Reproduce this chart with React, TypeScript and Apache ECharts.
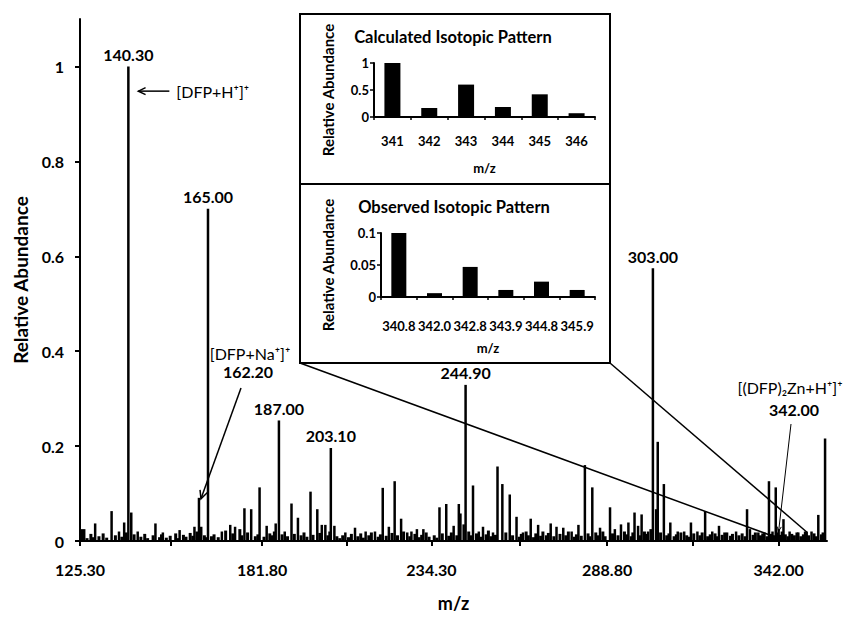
import React, { useEffect, useRef } from 'react';
import * as echarts from 'echarts';

// ---- main spectrum data (m/z, relative abundance) ----
const labeledPeaks: [number, number][] = [
  [140.3, 1.0], [165.0, 0.70], [187.0, 0.254], [203.1, 0.196], [244.9, 0.329], [303.0, 0.575],
];
const annotatedPeaks: [number, number][] = [[162.2, 0.091], [342.0, 0.025]];
const minorPeaks: [number, number][] = [
  [125.9, 0.025], [126.6, 0.025], [130.0, 0.037], [135.1, 0.063], [137.4, 0.02], [139.0, 0.039],
  [141.2, 0.06], [143.2, 0.02], [148.7, 0.037], [151.0, 0.018], [156.2, 0.023], [160.8, 0.03],
  [162.9, 0.03], [169.3, 0.02], [171.9, 0.034], [173.4, 0.03], [176.3, 0.069], [178.4, 0.067],
  [181.0, 0.113], [183.2, 0.032], [186.0, 0.037], [188.8, 0.02], [190.9, 0.079], [192.9, 0.049],
  [196.8, 0.104], [198.9, 0.067], [200.3, 0.034], [201.4, 0.034], [204.2, 0.032], [207.6, 0.018],
  [210.6, 0.028], [213.9, 0.02], [216.8, 0.02], [219.2, 0.112], [221.1, 0.03], [222.9, 0.126],
  [224.9, 0.047], [226.8, 0.018], [228.1, 0.02], [229.8, 0.025], [231.8, 0.025], [236.8, 0.071],
  [238.9, 0.078], [241.2, 0.032], [242.8, 0.078], [243.3, 0.058], [244.3, 0.035], [247.2, 0.117],
  [249.0, 0.02], [250.3, 0.03], [253.4, 0.018], [254.8, 0.157], [256.3, 0.12], [258.6, 0.098],
  [260.7, 0.051], [262.7, 0.018], [265.1, 0.047], [267.4, 0.034], [271.3, 0.037], [273.1, 0.03],
  [275.2, 0.028], [277.8, 0.02], [279.9, 0.034], [281.9, 0.16], [284.2, 0.113], [286.6, 0.028],
  [289.7, 0.071], [291.2, 0.025], [293.1, 0.035], [295.4, 0.039], [297.3, 0.06], [298.4, 0.032],
  [299.5, 0.056], [301.5, 0.02], [304.0, 0.067], [304.5, 0.209], [306.4, 0.12], [308.4, 0.039],
  [310.7, 0.02], [312.7, 0.02], [314.8, 0.039], [316.8, 0.02], [319.2, 0.063], [321.4, 0.02],
  [323.5, 0.032], [326.0, 0.018], [328.8, 0.02], [332.2, 0.067], [333.1, 0.025], [335.7, 0.018],
  [337.6, 0.018], [339.0, 0.126], [340.1, 0.02], [341.1, 0.113], [343.5, 0.046], [345.4, 0.02],
  [348.1, 0.018], [350.7, 0.02], [352.2, 0.02], [354.3, 0.055], [356.4, 0.216],
];
const baselineNoise: [number, number][] = [
  [126.2, 0.012], [127.4, 0.006], [128.6, 0.015], [129.3, 0.008], [131.1, 0.01], [132.4, 0.016],
  [133.5, 0.007], [136.2, 0.012], [138.2, 0.009], [139.6, 0.018], [142.0, 0.014], [144.1, 0.009],
  [145.3, 0.015], [146.2, 0.006], [147.9, 0.012], [149.9, 0.008], [150.5, 0.014], [152.0, 0.007],
  [153.2, 0.011], [154.9, 0.016], [155.6, 0.006], [157.3, 0.013], [158.1, 0.009], [159.4, 0.017],
  [160.2, 0.011], [161.5, 0.02], [163.8, 0.012], [164.3, 0.008], [166.0, 0.01], [166.8, 0.014],
  [168.1, 0.008], [170.4, 0.022], [172.6, 0.016], [174.8, 0.025], [175.4, 0.012], [177.2, 0.018],
  [179.6, 0.01], [180.4, 0.014], [182.3, 0.009], [184.1, 0.016], [184.9, 0.012], [185.5, 0.02],
  [187.9, 0.014], [189.6, 0.01], [191.7, 0.015], [193.8, 0.012], [194.7, 0.018], [195.6, 0.009],
  [197.5, 0.013], [199.6, 0.017], [202.1, 0.012], [202.7, 0.02], [204.9, 0.01], [205.8, 0.006],
  [206.7, 0.012], [208.5, 0.008], [209.4, 0.015], [211.4, 0.01], [212.3, 0.016], [213.1, 0.007],
  [214.8, 0.012], [215.6, 0.018], [217.7, 0.009], [218.4, 0.014], [220.2, 0.011], [222.0, 0.017],
  [223.7, 0.012], [225.6, 0.02], [227.5, 0.01], [229.1, 0.015], [230.4, 0.008], [231.2, 0.013],
  [232.6, 0.018], [233.5, 0.009], [235.1, 0.012], [235.9, 0.007], [237.6, 0.016], [239.6, 0.011],
  [240.4, 0.018], [242.1, 0.012], [245.8, 0.02], [246.4, 0.012], [248.2, 0.016], [249.6, 0.009],
  [251.2, 0.014], [251.9, 0.022], [252.7, 0.01], [254.1, 0.013], [257.3, 0.018], [259.4, 0.012],
  [261.5, 0.009], [262.1, 0.015], [263.6, 0.02], [264.3, 0.012], [265.9, 0.008], [266.6, 0.016],
  [268.1, 0.011], [268.8, 0.02], [269.9, 0.012], [270.5, 0.017], [272.2, 0.01], [274.1, 0.015],
  [275.9, 0.012], [276.7, 0.02], [278.6, 0.009], [279.2, 0.014], [280.7, 0.011], [282.8, 0.016],
  [283.3, 0.01], [285.2, 0.018], [285.9, 0.012], [287.4, 0.02], [288.1, 0.01], [290.4, 0.016],
  [292.1, 0.012], [294.1, 0.02], [294.8, 0.014], [296.2, 0.01], [296.7, 0.018], [298.9, 0.012],
  [300.3, 0.02], [301.0, 0.015], [302.3, 0.025], [305.3, 0.018], [307.2, 0.012], [307.9, 0.016],
  [309.5, 0.01], [310.2, 0.014], [311.6, 0.018], [313.4, 0.012], [314.2, 0.009], [315.6, 0.016],
  [317.5, 0.012], [318.2, 0.018], [319.9, 0.01], [320.7, 0.014], [322.2, 0.016], [322.9, 0.01],
  [324.4, 0.013], [325.2, 0.018], [327.0, 0.011], [327.6, 0.015], [329.6, 0.012], [330.6, 0.016],
  [331.5, 0.01], [334.0, 0.013], [334.7, 0.018], [336.3, 0.012], [337.0, 0.016], [338.3, 0.01],
  [339.6, 0.015], [340.6, 0.012], [341.6, 0.018], [342.5, 0.013], [343.0, 0.02], [344.0, 0.014],
  [344.8, 0.01], [346.0, 0.015], [346.8, 0.012], [347.6, 0.018], [348.8, 0.01], [349.6, 0.014],
  [350.2, 0.02], [351.2, 0.012], [352.9, 0.016], [353.6, 0.01], [355.2, 0.014], [355.7, 0.018],
];
const xTickLabels = [125.3, 181.8, 234.3, 288.8, 342.0];
const xMinorTicks = [125.3, 153.55, 181.8, 208.05, 234.3, 261.55, 288.8, 315.4, 342.0];
const yTickLabels = [0, 0.2, 0.4, 0.6, 0.8, 1];

// ---- inset data ----
const calcMz = ['341', '342', '343', '344', '345', '346'];
const calcAbund = [1.0, 0.167, 0.6, 0.185, 0.42, 0.07];
const obsMz = ['340.8', '342.0', '342.8', '343.9', '344.8', '345.9'];
const obsAbund = [0.1, 0.006, 0.047, 0.011, 0.024, 0.011];

const FONT = 'Lato';

export default function App() {
  const ref = useRef<HTMLDivElement>(null);
  useEffect(() => {
    const chart = echarts.init(ref.current!, null, { renderer: 'svg' });
    const bold = (size: number) => ({ fontFamily: FONT, fontWeight: 'bold' as const, fontSize: size, color: '#000' });
    const axisLine = { show: true, lineStyle: { color: '#000', width: 2 } };

    const insetX = (gridIndex: number, data: string[], labelMargin: number) => ({
      type: 'category', gridIndex, data, name: 'm/z', nameLocation: 'middle', nameGap: 44,
      nameTextStyle: bold(13),
      axisLine, axisTick: { show: true, length: 3, lineStyle: { color: '#000', width: 1.5 } },
      axisLabel: { ...bold(13), margin: labelMargin, interval: 0, hideOverlap: false },
      splitLine: { show: false },
    });
    const insetY = (gridIndex: number, max: number, interval: number, nameGap: number) => ({
      type: 'value', gridIndex, min: 0, max, interval,
      name: 'Relative Abundance', nameLocation: 'middle', nameGap,
      nameTextStyle: bold(15),
      axisLine, axisTick: { show: true, length: 4, lineStyle: { color: '#000', width: 1.5 } },
      axisLabel: { ...bold(13), margin: 5 },
      splitLine: { show: false },
    });

    const barBase = {
      type: 'bar', xAxisIndex: 0, yAxisIndex: 0, barWidth: 2.5, barGap: '-100%',
      itemStyle: { color: '#000' }, silent: true,
    };

    const option: any = {
      animation: false,
      backgroundColor: '#fff',
      textStyle: { fontFamily: FONT, color: '#000' },
      grid: [
        { left: 80, right: 19, top: 19, bottom: 70 },
        { left: 374, top: 63, width: 221, height: 54 },
        { left: 381, top: 233, width: 214, height: 64 },
      ],
      xAxis: [
        {
          type: 'value', gridIndex: 0, min: 125.3, max: 357,
          name: 'm/z', nameLocation: 'middle', nameGap: 53, nameTextStyle: bold(18),
          axisLine,
          axisTick: { show: true, length: 5, customValues: xMinorTicks, lineStyle: { color: '#000', width: 2 } },
          axisLabel: { ...bold(16), margin: 20, customValues: xTickLabels, formatter: (v: number) => v.toFixed(2) },
          splitLine: { show: false },
        },
        insetX(1, calcMz, 17),
        insetX(2, obsMz, 22),
      ],
      yAxis: [
        {
          type: 'value', gridIndex: 0, min: 0, max: 1.1,
          name: 'Relative Abundance', nameLocation: 'middle', nameGap: 50, nameTextStyle: bold(19),
          axisLine,
          axisTick: { show: true, length: 5, customValues: yTickLabels, lineStyle: { color: '#000', width: 2 } },
          axisLabel: { ...bold(16), margin: 16, customValues: yTickLabels },
          splitLine: { show: false },
        },
        insetY(1, 1, 0.5, 39),
        insetY(2, 0.1, 0.05, 46),
      ],
      series: [
        { ...barBase, name: 'noise', data: baselineNoise, barWidth: 3 },
        { ...barBase, name: 'minor', data: minorPeaks },
        { ...barBase, name: 'annotated', data: annotatedPeaks },
        {
          ...barBase, name: 'labeled', data: labeledPeaks,
          label: {
            show: true, position: 'top', distance: 4, ...bold(16),
            formatter: (p: any) => p.value[0].toFixed(2),
          },
        },
        { type: 'bar', xAxisIndex: 1, yAxisIndex: 1, data: calcAbund, barWidth: 16, itemStyle: { color: '#000' } },
        { type: 'bar', xAxisIndex: 2, yAxisIndex: 2, data: obsAbund, barWidth: 15, itemStyle: { color: '#000' } },
      ],
    };
    chart.setOption(option);

    const P = (d: [number, number]) => chart.convertToPixel({ gridIndex: 0 }, d) as number[];
    const stroke = (w: number) => ({ stroke: '#000', lineWidth: w, fill: 'none' });
    const line = (a: number[], b: number[], w: number) => ({
      type: 'line', z: 100, shape: { x1: a[0], y1: a[1], x2: b[0], y2: b[1] }, style: stroke(w),
    });
    const head = (tip: number[], from: number[], len: number, w: number) => {
      const dx = from[0] - tip[0], dy = from[1] - tip[1];
      const l = Math.hypot(dx, dy); const ux = dx / l, uy = dy / l;
      const a = 0.45, c = Math.cos(a), s = Math.sin(a);
      const p1 = [tip[0] + len * (ux * c - uy * s), tip[1] + len * (ux * s + uy * c)];
      const p2 = [tip[0] + len * (ux * c + uy * s), tip[1] + len * (-ux * s + uy * c)];
      return { type: 'polyline', z: 100, shape: { points: [p1, tip, p2] }, style: stroke(w) };
    };
    const text = (t: string, x: number, y: number, size: number, weight: string, align = 'center') => ({
      type: 'text', z: 100, x, y,
      style: { text: t, fontFamily: FONT, fontSize: size, fontWeight: weight, fill: '#000', align, verticalAlign: 'middle' },
    });

    const pk140 = P([labeledPeaks[0][0], 0.948]);
    const tip1 = [pk140[0] + 10, pk140[1]];
    const tail1 = [pk140[0] + 41, pk140[1]];
    const pk162 = P(annotatedPeaks[0]);
    const tip2 = [pk162[0] + 2, pk162[1] + 1];
    const tail2 = [241, 388];
    const pk342 = P(annotatedPeaks[1]);
    const tip3 = [pk342[0], pk342[1] + 2];
    const tail3 = [791, 424];
    const zoomL = P([341.1, 0.008]);
    const zoomR = P([350.7, 0.019]);

    chart.setOption({
      graphic: [
        // inset box
        { type: 'rect', z: 100, shape: { x: 300, y: 14, width: 310, height: 349 }, style: stroke(2) },
        line([300, 184], [610, 184], 2),
        text('Calculated Isotopic Pattern', 453, 37, 16.5, 'bold'),
        text('Observed Isotopic Pattern', 454, 207, 16.5, 'bold'),
        // zoom lines
        line([300, 363], zoomL, 1.5),
        line([610, 363], zoomR, 1.5),
        // [DFP+H+]+
        line(tip1, tail1, 1.5), head(tip1, tail1, 8, 1.5),
        text('[DFP+H⁺]⁺', tail1[0] + 7, pk140[1], 16, 'normal', 'left'),
        // [DFP+Na+]+
        text('[DFP+Na⁺]⁺', 250, 353, 16, 'normal'),
        text('162.20', 248, 371, 16, 'bold'),
        line(tail2, tip2, 1.5), head(tip2, tail2, 9, 1.5),
        // [(DFP)2Zn+H+]+
        text('[(DFP)₂Zn+H⁺]⁺', 790, 387, 16, 'normal'),
        text('342.00', 794, 409, 16, 'bold'),
        line(tail3, tip3, 1), head(tip3, tail3, 5, 1),
      ],
    });

    return () => chart.dispose();
  }, []);
  return (
    <div
      ref={ref}
      style={{ position: 'fixed', left: 0, top: 0, width: 846, height: 617, background: '#fff' }}
    />
  );
}
